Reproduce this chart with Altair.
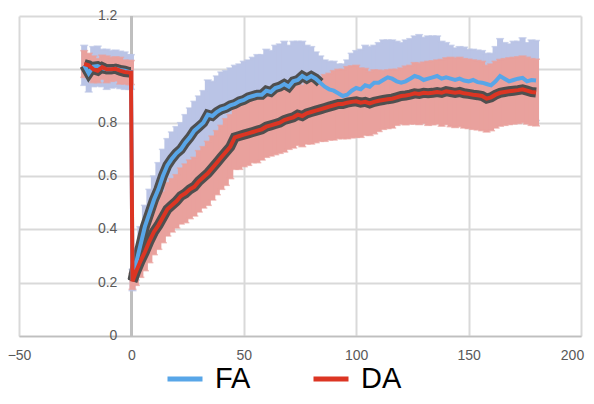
import altair as alt
import pandas as pd

# ---------------- data ----------------
X_TICKS = [-50, 0, 50, 100, 150, 200]
Y_TICKS = [0, 0.2, 0.4, 0.6, 0.8, 1.0, 1.2]
Y_LABELS = ["0", "0.2", "0.4", "0.6", "0.8", "1", "1.2"]
SERIES = ["FA", "DA"]

PRE_X = [-21, -19, -17, -15, -13, -11, -9, -7, -5, -3, -1, -0.2]
POST_X = [0.5] + list(range(2, 181, 2))

FA_PRE = [1.015, 0.985, 1.01, 1.012, 1.005, 1.0, 1.0, 1.002, 0.998, 0.995, 0.99, 0.99]
FA_PRE_SD = [0.075, 0.07, 0.075, 0.075, 0.07, 0.075, 0.07, 0.07, 0.07, 0.07, 0.065, 0.065]
DA_PRE = [1.02, 1.015, 1.0, 0.995, 1.008, 1.0, 1.0, 1.002, 0.995, 0.99, 0.988, 0.988]
DA_PRE_SD = [0.05, 0.045, 0.05, 0.045, 0.045, 0.05, 0.045, 0.045, 0.05, 0.045, 0.045, 0.045]

FA_POST = [0.21, 0.27, 0.34, 0.41, 0.46, 0.51, 0.55, 0.60, 0.64, 0.665, 0.685,
           0.70, 0.725, 0.745, 0.77, 0.785, 0.80, 0.83, 0.825, 0.84, 0.85,
           0.855, 0.865, 0.87, 0.88, 0.885, 0.895, 0.90, 0.905, 0.905, 0.92,
           0.915, 0.93, 0.935, 0.945, 0.935, 0.955, 0.96, 0.975, 0.965, 0.975,
           0.965, 0.95, 0.935, 0.925, 0.92, 0.91, 0.90, 0.905, 0.92, 0.93,
           0.925, 0.94, 0.935, 0.95, 0.95, 0.96, 0.97, 0.965, 0.955, 0.95,
           0.955, 0.965, 0.975, 0.97, 0.96, 0.965, 0.97, 0.975, 0.965, 0.97,
           0.965, 0.96, 0.965, 0.958, 0.955, 0.96, 0.952, 0.95, 0.945, 0.94,
           0.955, 0.975, 0.965, 0.955, 0.96, 0.965, 0.968, 0.955, 0.96, 0.958]
FA_POST_SD = [0.04, 0.06, 0.07, 0.08, 0.09, 0.09, 0.10, 0.10, 0.10, 0.10, 0.10,
              0.10, 0.105, 0.11, 0.11, 0.115, 0.12, 0.13, 0.13, 0.135, 0.14,
              0.14, 0.14, 0.145, 0.14, 0.145, 0.14, 0.145, 0.15, 0.15, 0.155,
              0.155, 0.16, 0.16, 0.16, 0.155, 0.15, 0.145, 0.13, 0.125, 0.11,
              0.10, 0.10, 0.10, 0.105, 0.11, 0.11, 0.12, 0.13, 0.14, 0.14,
              0.15, 0.15, 0.15, 0.14, 0.15, 0.15, 0.14, 0.145, 0.15, 0.15,
              0.155, 0.15, 0.15, 0.16, 0.16, 0.16, 0.155, 0.15, 0.14, 0.13,
              0.125, 0.12, 0.12, 0.125, 0.12, 0.115, 0.12, 0.12, 0.115, 0.12,
              0.13, 0.14, 0.135, 0.14, 0.145, 0.14, 0.15, 0.145, 0.15, 0.15]
DA_POST = [0.205, 0.24, 0.28, 0.315, 0.355, 0.39, 0.415, 0.445, 0.475, 0.49, 0.505,
           0.525, 0.535, 0.55, 0.56, 0.58, 0.595, 0.61, 0.63, 0.65, 0.67,
           0.69, 0.71, 0.745, 0.75, 0.755, 0.76, 0.765, 0.77, 0.775, 0.785,
           0.79, 0.795, 0.80, 0.81, 0.815, 0.82, 0.83, 0.825, 0.835, 0.84,
           0.845, 0.85, 0.855, 0.86, 0.865, 0.87, 0.87, 0.875, 0.878, 0.88,
           0.875, 0.878, 0.872, 0.878, 0.882, 0.885, 0.888, 0.89, 0.895, 0.90,
           0.902, 0.905, 0.91, 0.908, 0.912, 0.91, 0.912, 0.915, 0.912, 0.918,
           0.915, 0.912, 0.915, 0.91, 0.908, 0.905, 0.903, 0.90, 0.89, 0.895,
           0.905, 0.912, 0.915, 0.918, 0.92, 0.922, 0.925, 0.92, 0.915, 0.913]
DA_POST_SD = [0.03, 0.05, 0.06, 0.07, 0.08, 0.085, 0.09, 0.095, 0.10, 0.10, 0.10,
              0.105, 0.11, 0.11, 0.11, 0.115, 0.115, 0.12, 0.12, 0.12, 0.12,
              0.125, 0.12, 0.12, 0.125, 0.12, 0.12, 0.115, 0.12, 0.115, 0.115,
              0.115, 0.115, 0.115, 0.12, 0.115, 0.115, 0.115, 0.115, 0.115, 0.12,
              0.12, 0.12, 0.125, 0.125, 0.13, 0.13, 0.13, 0.135, 0.135, 0.135,
              0.13, 0.125, 0.12, 0.12, 0.115, 0.11, 0.11, 0.11, 0.105, 0.105,
              0.11, 0.11, 0.115, 0.115, 0.115, 0.12, 0.12, 0.12, 0.125, 0.125,
              0.13, 0.13, 0.13, 0.13, 0.13, 0.13, 0.13, 0.13, 0.125, 0.125,
              0.125, 0.125, 0.125, 0.125, 0.125, 0.125, 0.125, 0.125, 0.125, 0.125]

FA_SEM_LAST_X = 84  # dark SEM outline on FA only drawn up to here

# ---------------- styling ----------------
BLUE = "#58a6e8"
RED = "#dc3523"
LIGHT_BLUE = "#bac4e6"
PINK = "#e9a19d"
DARK = "#4f4f4f"
GRID = "#d9d9d9"
AXIS = "#bfbfbf"
TXT = "#595959"
FONT = "Liberation Sans"
LEGEND_FONT = "Liberation Sans"

rows = []
for name, pre, pre_sd, post, post_sd in [
    ("FA", FA_PRE, FA_PRE_SD, FA_POST, FA_POST_SD),
    ("DA", DA_PRE, DA_PRE_SD, DA_POST, DA_POST_SD),
]:
    for x, m, s in zip(PRE_X, pre, pre_sd):
        rows.append({"series": name, "phase": "pre", "x": x, "mean": m, "lo": m - s, "hi": m + s})
    for x, m, s in zip(POST_X, post, post_sd):
        rows.append({"series": name, "phase": "post", "x": x, "mean": m, "lo": m - s, "hi": m + s})
df = pd.DataFrame(rows)
ticks_df = pd.DataFrame({"v": Y_TICKS, "label": Y_LABELS})

x_scale = alt.Scale(domain=[-50, 200], nice=False, zero=False)
y_scale = alt.Scale(domain=[0, 1.2], nice=False)
x_axis = alt.Axis(values=X_TICKS, grid=True, gridColor=GRID, gridWidth=2,
                  domainColor=AXIS, domainWidth=1.5, ticks=False,
                  labelFontSize=14, labelColor=TXT, labelFont=FONT,
                  labelPadding=12, labelFlush=False, labelOverlap=False,
                  labelBound=False, title=None,
                  labelOffset={"condition": {"test": "datum.value == 200", "value": -9}, "value": 0})
y_axis = alt.Axis(values=Y_TICKS, grid=True, gridColor=GRID, gridWidth=2,
                  labels=False, ticks=False, domain=False, title=None)


def X(field="x"):
    return alt.X(f"{field}:Q", scale=x_scale, axis=x_axis)


def Y(field):
    return alt.Y(f"{field}:Q", scale=y_scale, axis=y_axis)


base = alt.Chart(df)

ylabels = alt.Chart(ticks_df).mark_text(
    align="right", baseline="middle", dx=-14, fontSize=14, color=TXT, font=FONT
).encode(x=alt.datum(0), y=Y("v"), text="label:N")

yline = alt.Chart(ticks_df).mark_rule(color=AXIS, strokeWidth=2.5).encode(
    x=alt.datum(0), y=alt.datum(0), y2=alt.datum(1.2)
)


def band(name, color):
    d = base.transform_filter(alt.datum.series == name)
    bars = d.mark_rule(color=color, strokeWidth=6).encode(x=X(), y=Y("lo"), y2="hi:Q")
    cap_hi = d.mark_tick(color=color, orient="horizontal", size=8, thickness=1.5).encode(x=X(), y=Y("hi"))
    cap_lo = d.mark_tick(color=color, orient="horizontal", size=8, thickness=1.5).encode(x=X(), y=Y("lo"))
    return [bars, cap_hi, cap_lo]


dark_fa = base.transform_filter(
    (alt.datum.series == "FA") & (alt.datum.x <= FA_SEM_LAST_X)
).mark_line(color=DARK, strokeWidth=10).encode(x=X(), y=Y("mean"), detail="phase:N")
dark_da = base.transform_filter(alt.datum.series == "DA").mark_line(
    color=DARK, strokeWidth=10).encode(x=X(), y=Y("mean"), detail="phase:N")

color = alt.Color("series:N", scale=alt.Scale(domain=SERIES, range=[BLUE, RED]),
                  legend=alt.Legend(orient="none", legendX=146, legendY=343, direction="horizontal",
                                    title=None, symbolType="stroke", symbolStrokeWidth=5,
                                    symbolSize=1225, labelFontSize=29, labelFont=LEGEND_FONT,
                                    labelColor="#000000", labelOffset=10, columnPadding=52))

line_fa = base.transform_filter(alt.datum.series == "FA").mark_line(strokeWidth=4).encode(
    x=X(), y=Y("mean"), color=color)
line_da = base.transform_filter(alt.datum.series == "DA").mark_line(strokeWidth=4).encode(
    x=X(), y=Y("mean"), color=color)

chart = alt.layer(
    ylabels, yline, *band("FA", LIGHT_BLUE), *band("DA", PINK),
    dark_fa, dark_da, line_fa, line_da
).properties(
    width=562, height=320,
    autosize=alt.AutoSizeParams(type="none"),
    padding={"left": 11, "top": 8, "right": 5, "bottom": 60},
    background="white",
).configure_view(stroke=None)

chart.save("out.html", embed_options={"renderer": "svg", "actions": False})
